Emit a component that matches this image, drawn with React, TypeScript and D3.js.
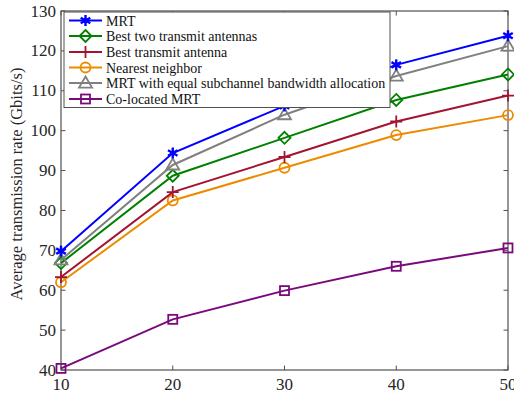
import React from "react";
import * as d3 from "d3";

const xValues = [10, 20, 30, 40, 50];
const seriesNames = [
  "MRT",
  "Best two transmit antennas",
  "Best transmit antenna",
  "Nearest neighbor",
  "MRT with equal subchannel bandwidth allocation",
  "Co-located MRT",
];
const mrt = [69.8, 94.4, 106.2, 116.5, 123.8];
const bestTwo = [66.8, 88.7, 98.2, 107.7, 114.1];
const bestOne = [63.3, 84.6, 93.4, 102.3, 108.8];
const nearest = [62.0, 82.5, 90.7, 98.9, 103.9];
const mrtEqual = [67.6, 91.4, 104.0, 113.7, 121.2];
const colocated = [40.4, 52.7, 59.9, 66.0, 70.6];
const xTicks = [10, 20, 30, 40, 50];
const yTicks = [40, 50, 60, 70, 80, 90, 100, 110, 120, 130];

const colors = ["#0000ff", "#008000", "#a2142f", "#ed8b00", "#808080", "#7a0a7a"];
const markers = ["star", "diamond", "plus", "circle", "triangle", "square"];
const allValues = [mrt, bestTwo, bestOne, nearest, mrtEqual, colocated];
// draw order: put gray behind blue
const drawOrder = [5, 3, 2, 1, 4, 0];

const X0 = 61, X1 = 508, Y0 = 11, Y1 = 370;

function Marker({ type, x, y, color }: { type: string; x: number; y: number; color: string }) {
  const sw = 1.8;
  if (type === "star") {
    const r = 5.5;
    const lines = [0, 60, 120].map((a) => {
      const rad = (a * Math.PI) / 180 + Math.PI / 2;
      return (
        <line key={a} x1={x - r * Math.cos(rad)} y1={y - r * Math.sin(rad)} x2={x + r * Math.cos(rad)} y2={y + r * Math.sin(rad)} stroke={color} strokeWidth={2.4} />
      );
    });
    return <g>{lines}<circle cx={x} cy={y} r={2.5} fill={color} /></g>;
  }
  if (type === "diamond") {
    const r = 6;
    return <path d={`M${x},${y - r}L${x + r},${y}L${x},${y + r}L${x - r},${y}Z`} fill="none" stroke={color} strokeWidth={sw} />;
  }
  if (type === "plus") {
    const r = 6;
    return <path d={`M${x - r},${y}H${x + r}M${x},${y - r}V${y + r}`} stroke={color} strokeWidth={sw} />;
  }
  if (type === "circle") {
    return <circle cx={x} cy={y} r={5} fill="none" stroke={color} strokeWidth={sw} />;
  }
  if (type === "triangle") {
    const r = 6.5;
    return <path d={`M${x},${y - r}L${x + r},${y + r * 0.7}L${x - r},${y + r * 0.7}Z`} fill="none" stroke={color} strokeWidth={sw} />;
  }
  const r = 4.5;
  return <rect x={x - r} y={y - r} width={2 * r} height={2 * r} fill="none" stroke={color} strokeWidth={sw} />;
}

export default function App() {
  const xScale = d3.scaleLinear().domain([10, 50]).range([X0, X1]);
  const yScale = d3.scaleLinear().domain([40, 130]).range([Y1, Y0]);
  const line = d3
    .line<number>()
    .x((_, i) => xScale(xValues[i]))
    .y((d) => yScale(d));
  const font = "'Liberation Serif', 'Times New Roman', serif";
  const axisColor = "#505050";
  const legendYs = [20.5, 36, 52, 67.5, 83, 99];

  return (
    <svg width={514} height={400} style={{ position: "absolute", left: 0, top: 0 }} fontFamily={font}>
      <rect x={0} y={0} width={514} height={400} fill="#fff" />
      {/* ticks */}
      {xTicks.map((t) => (
        <g key={"x" + t}>
          <line x1={xScale(t)} x2={xScale(t)} y1={Y1} y2={Y1 - 4.5} stroke={axisColor} />
          <line x1={xScale(t)} x2={xScale(t)} y1={Y0} y2={Y0 + 4.5} stroke={axisColor} />
          <text x={xScale(t)} y={Y1 + 20} textAnchor="middle" fontSize={17} fill="#262626">{t}</text>
        </g>
      ))}
      {yTicks.map((t) => (
        <g key={"y" + t}>
          <line x1={X0} x2={X0 + 4.5} y1={yScale(t)} y2={yScale(t)} stroke={axisColor} />
          <line x1={X1} x2={X1 - 4.5} y1={yScale(t)} y2={yScale(t)} stroke={axisColor} />
          <text x={X0 - 5} y={yScale(t) + 5.5} textAnchor="end" fontSize={17} fill="#262626">{t}</text>
        </g>
      ))}
      <rect x={X0} y={Y0} width={X1 - X0} height={Y1 - Y0} fill="none" stroke={axisColor} strokeWidth={1.2} />
      <text transform={`translate(22,184) rotate(-90)`} textAnchor="middle" fontSize={16.5} fill="#262626">
        Average transmission rate (Gbits/s)
      </text>
      {/* series */}
      {drawOrder.map((k) => (
        <g key={"s" + k}>
          <path d={line(allValues[k]) || ""} fill="none" stroke={colors[k]} strokeWidth={2} />
          {allValues[k].map((v, i) => (
            <Marker key={i} type={markers[k]} x={xScale(xValues[i])} y={yScale(v)} color={colors[k]} />
          ))}
        </g>
      ))}
      {/* legend */}
      <rect x={64} y={12} width={326} height={95.5} fill="#fff" stroke={axisColor} strokeWidth={1} />
      {seriesNames.map((name, k) => (
        <g key={"l" + k}>
          <line x1={69} x2={102} y1={legendYs[k]} y2={legendYs[k]} stroke={colors[k]} strokeWidth={2} />
          <Marker type={markers[k]} x={85.5} y={legendYs[k]} color={colors[k]} />
          <text x={106} y={legendYs[k] + 5} fontSize={14} fill="#111">{name}</text>
        </g>
      ))}
    </svg>
  );
}
